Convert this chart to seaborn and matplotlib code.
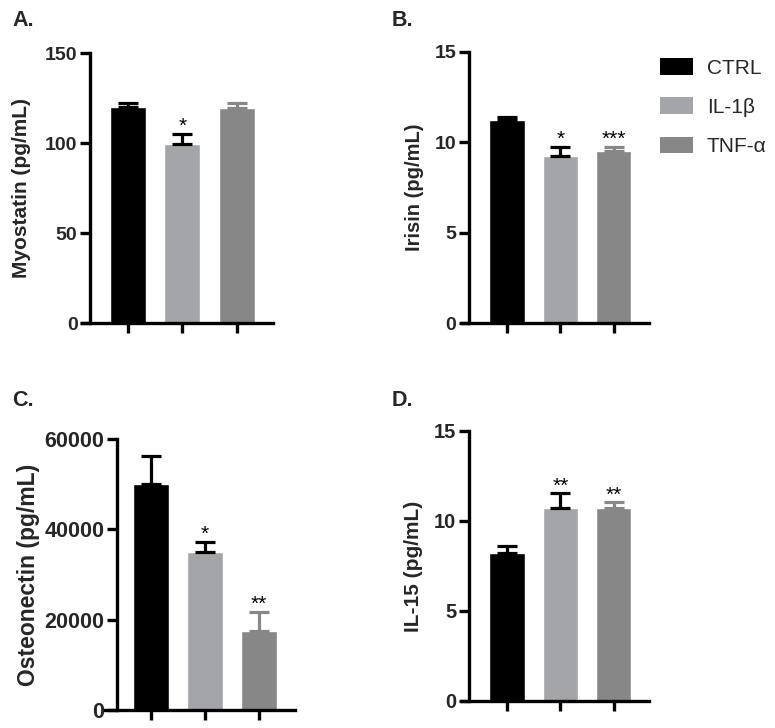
import matplotlib
matplotlib.use("Agg")
import matplotlib.pyplot as plt
from matplotlib.patches import Patch
import seaborn as sns
import pandas as pd

sns.set_theme(style="white")
plt.rcParams['font.family'] = ['Liberation Sans', 'DejaVu Sans']

groups = ["CTRL", "IL-1\u03b2", "TNF-\u03b1"]
colors = ["#000000", "#a4a5a9", "#878787"]
err_colors = ["#000000", "#000000", "#878787"]

myostatin = [120, 99.5, 119.2]
myostatin_err = [2.2, 5.3, 3.0]
irisin = [11.22, 9.26, 9.53]
irisin_err = [0.2, 0.5, 0.2]
osteonectin = [50000, 35000, 17600]
osteonectin_err = [6300, 2200, 4200]
il15 = [8.2, 10.7, 10.7]
il15_err = [0.4, 0.83, 0.33]

stars_A = ["", "*", ""]
stars_B = ["", "*", "***"]
stars_C = ["", "*", "**"]
stars_D = ["", "**", "**"]

panels = [
    ("A.", myostatin, myostatin_err, stars_A, "Myostatin (pg/mL)", [0, 50, 100, 150], 150,
     (82, 273, 53, 323), 90, 15, 14, 10),
    ("B.", irisin, irisin_err, stars_B, "Irisin (pg/mL)", [0, 5, 10, 15], 15,
     (462, 649, 52, 323), 469, 14.5, 14, 8),
    ("C.", osteonectin, osteonectin_err, stars_C, "Osteonectin (pg/mL)", [0, 20000, 40000, 60000], 60000,
     (105, 295, 439, 710), 117, 16.5, 15.5, 3),
    ("D.", il15, il15_err, stars_D, "IL-15 (pg/mL)", [0, 5, 10, 15], 15,
     (462, 649, 431, 701), 469, 15, 14.5, 8),
]
letter_pos = [(12, 26), (392, 26), (12, 406), (392, 406)]

W, H = 775, 728
fig = plt.figure(figsize=(W / 100, H / 100), dpi=100)

for (letter, vals, errs, stars, ylabel, yticks, ymax, box, yax, lab_fs, tick_fs, lpad), lp in zip(panels, letter_pos):
    l, r, t, b = box
    ax = fig.add_axes([l / W, 1 - b / H, (r - l) / W, (b - t) / H])
    df = pd.DataFrame({"group": groups, "value": vals})
    sns.barplot(data=df, x="group", y="value", hue="group", palette=colors,
                width=0.66, legend=False, ax=ax, errorbar=None, saturation=1)
    for i in range(3):
        ax.errorbar([i], [vals[i]], yerr=[[0], [errs[i]]], fmt="none",
                    ecolor=err_colors[i], elinewidth=2.3, capsize=7.5, capthick=2.3,
                    zorder=1)
        if stars[i]:
            ax.annotate(stars[i], (i, vals[i] + errs[i]), xytext=(0, 1.5),
                        textcoords="offset points", ha="center", va="baseline",
                        fontsize=15, color="black")
    ax.set_xlim(-0.84, 2.66)
    ax.set_ylim(0, ymax)
    xs = -0.84 + (yax - l) / (r - l) * 3.5
    ax.spines["left"].set_position(("data", xs))
    ax.spines["right"].set_visible(False)
    ax.spines["top"].set_visible(False)
    for s in ["left", "bottom"]:
        ax.spines[s].set_linewidth(2.4)
        ax.spines[s].set_color("black")
    ax.set_yticks(yticks)
    ax.set_yticklabels([str(v) for v in yticks], fontweight="bold", fontsize=tick_fs)
    ax.set_xticks(range(3))
    ax.set_xticklabels([])
    ax.tick_params(axis="both", direction="out", length=7, width=2.4, color="black",
                   left=True, bottom=True, pad=2)
    ax.set_xlabel("")
    ax.set_ylabel(ylabel, fontweight="bold", fontsize=lab_fs, labelpad=lpad)
    fig.text(lp[0] / W, 1 - lp[1] / H, letter, fontweight="bold", fontsize=15.5,
             ha="left", va="baseline")

handles = [Patch(facecolor=c, edgecolor="none") for c in colors]
fig.legend(handles, groups, loc="upper left", bbox_to_anchor=(660 / W, 1 - 58 / H),
           frameon=False, fontsize=15, handlelength=1.6, handleheight=0.85,
           handletextpad=0.65, labelspacing=0.95, borderpad=0, borderaxespad=0)

fig.savefig("out.png", dpi=100)
